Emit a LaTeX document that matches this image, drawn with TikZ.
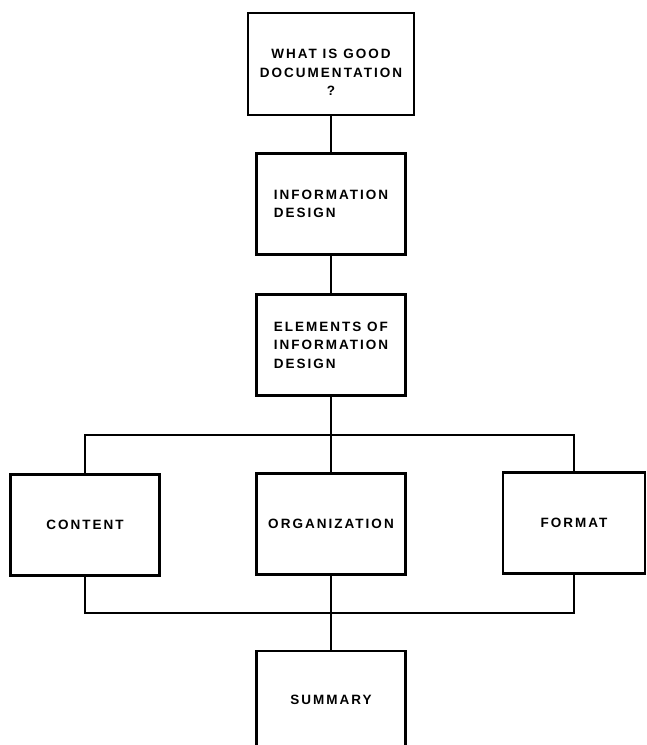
\documentclass[tikz,border=0pt]{standalone}
\usepackage{fontspec}
\newfontfamily\chartfont{Liberation Sans}[LetterSpace=15]
\usetikzlibrary{positioning}

\begin{document}
\begin{tikzpicture}[x=1pt,y=-1pt,line width=2pt,
  box/.style={draw,line width=2.2pt,inner sep=0pt,minimum width=149pt,minimum height=101pt,
    font=\chartfont\bfseries\fontsize{13.5}{18.5}\selectfont}]
\useasboundingbox (0,0) rectangle (646,745);
% top chain
\node[box,minimum width=166pt,minimum height=102pt,align=center] (good) at (331,64) {\rule{0pt}{26pt}WHAT IS GOOD\\DOCUMENTATION\\?};
\node[box,align=left] (design) at (331,204) {INFORMATION\\DESIGN};
\node[box,align=left] (elements) at (331,345) {ELEMENTS OF\\INFORMATION\\DESIGN};
% the three elements
\node[box] (content) at (85,525) {CONTENT};
\node[box] (organization) at (331,524) {ORGANIZATION};
\node[box,minimum width=142pt] (format) at (574,523) {FORMAT};
\node[box,minimum height=98pt] (summary) at (331,700) {SUMMARY};
\coordinate (topbus) at (331,435);\coordinate (lowbus) at (331,613);
\draw (good)--(design);\draw (design)--(elements);
\draw (elements)--(organization);\draw (organization)--(summary);
\draw (content.north) |- (topbus) -| (format.north);
\draw (content.south) |- (lowbus) -| (format.south);
\end{tikzpicture}
\end{document}
